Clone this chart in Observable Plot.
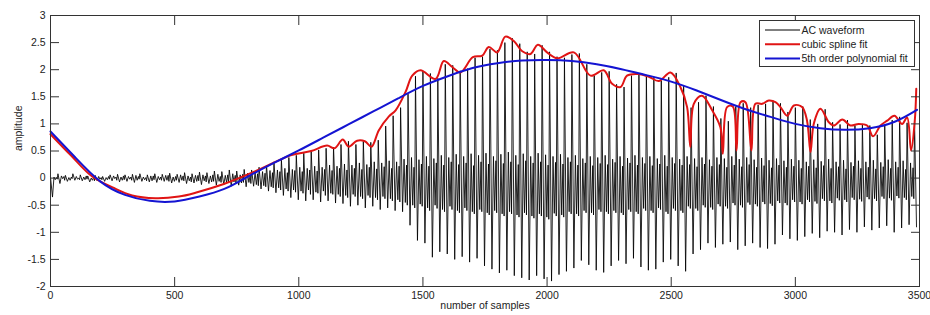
<!DOCTYPE html>
<html><head><meta charset="utf-8">
<script src="https://cdn.jsdelivr.net/npm/d3@7"></script>
<script src="https://cdn.jsdelivr.net/npm/@observablehq/plot@0.6"></script>
<style>body{margin:0;background:#fff;} #chart svg{display:block}</style>
</head><body><div id="chart"></div>
<script>
// ---- data ----
const xTicks = [0, 500, 1000, 1500, 2000, 2500, 3000, 3500];
const yTicks = [-2, -1.5, -1, -0.5, 0, 0.5, 1, 1.5, 2, 2.5, 3];
const xLabel = "number of samples";
const yLabel = "amplitude";
const legendLabels = ["AC waveform", "cubic spline fit", "5th order polynomial fit"];

// AC waveform: one cycle every 30 samples; turning points inside a cycle
const cyclePeriod = 30;
const cycleTurnOffsets = [0, 8, 14, 19, 24, 27]; // peak, trough, ripple hi, ripple lo, ripple2 hi, ripple2 lo
const acPeaks = [
  0.02, 0.08, 0.05, 0.08, 0.06, 0.04, 0.05, 0.03, 0.06, 0.07,
  0.06, 0.07, 0.08, 0.06, 0.08, 0.07, 0.09, 0.07, 0.10, 0.08,
  0.11, 0.10, 0.13, 0.12, 0.15, 0.13, 0.16, 0.15, 0.20, 0.24,
  0.30, 0.33, 0.38, 0.42, 0.46, 0.50, 0.52, 0.55, 0.57, 0.62,
  0.68, 0.62, 0.68, 0.66, 0.70, 0.96, 1.15, 1.30, 1.55, 1.88,
  1.98, 1.93, 1.84, 2.10, 2.08, 1.98, 2.02, 2.22, 2.24, 2.38,
  2.36, 2.50, 2.58, 2.48, 2.33, 2.29, 2.45, 2.33, 2.24, 2.22,
  2.28, 2.30, 2.10, 1.89, 1.95, 1.97, 1.73, 1.68, 1.89, 1.92,
  1.90, 1.86, 1.80, 1.86, 1.94, 1.70, 1.30, 1.40, 1.52, 1.32,
  1.10, 1.05, 1.32, 1.38, 1.30, 1.35, 1.37, 1.43, 1.38, 1.22,
  1.30, 1.32, 1.08, 1.00, 1.27, 1.03, 0.99, 1.07, 0.97, 1.00,
  0.97, 0.80, 0.97, 1.07, 1.13, 1.02, 1.05
];
const acTroughs = [
  -0.35, -0.10, -0.06, -0.04, -0.05, -0.07, -0.05, -0.06, -0.05, -0.07,
  -0.06, -0.08, -0.06, -0.07, -0.08, -0.06, -0.09, -0.08, -0.10, -0.09,
  -0.12, -0.10, -0.13, -0.12, -0.15, -0.13, -0.16, -0.15, -0.20, -0.24,
  -0.27, -0.32, -0.36, -0.40, -0.42, -0.40, -0.44, -0.42, -0.46, -0.47,
  -0.52, -0.50, -0.55, -0.52, -0.58, -0.55, -0.60, -0.62, -0.87, -1.15,
  -1.20, -1.46, -1.36, -1.40, -1.50, -1.45, -1.55, -1.48, -1.62, -1.68,
  -1.75, -1.70, -1.80, -1.84, -1.88, -1.80, -1.86, -1.90, -1.78, -1.72,
  -1.66, -1.52, -1.60, -1.70, -1.74, -1.62, -1.52, -1.58, -1.48, -1.64,
  -1.70, -1.68, -1.55, -1.50, -1.62, -1.72, -1.40, -1.32, -1.20, -1.28,
  -1.22, -1.18, -1.32, -1.25, -1.20, -1.28, -1.30, -1.22, -1.05, -1.12,
  -1.15, -1.08, -1.02, -1.10, -0.98, -1.00, -1.05, -0.95, -1.00, -0.90,
  -0.96, -0.92, -0.88, -1.00, -0.92, -0.86, -0.90
];
const acRippleHigh = [
  0.02, 0.04, 0.01, 0.03, 0.02, 0.00, 0.03, 0.01, 0.04, 0.02,
  0.03, 0.05, 0.02, 0.04, 0.03, 0.05, 0.02, 0.06, 0.04, 0.05,
  0.06, 0.04, 0.07, 0.05, 0.08, 0.06, 0.09, 0.10, 0.12, 0.14,
  0.15, 0.18, 0.16, 0.20, 0.18, 0.22, 0.20, 0.24, 0.22, 0.26,
  0.24, 0.28, 0.25, 0.30, 0.28, 0.32, 0.30, 0.35, 0.38, 0.34,
  0.40, 0.36, 0.42, 0.38, 0.44, 0.40, 0.45, 0.42, 0.46, 0.40,
  0.44, 0.48, 0.42, 0.45, 0.40, 0.46, 0.43, 0.40, 0.44, 0.38,
  0.42, 0.36, 0.40, 0.38, 0.42, 0.35, 0.40, 0.37, 0.42, 0.38,
  0.40, 0.36, 0.42, 0.38, 0.35, 0.40, 0.36, 0.38, 0.34, 0.38,
  0.36, 0.40, 0.35, 0.38, 0.34, 0.37, 0.33, 0.36, 0.32, 0.35,
  0.33, 0.30, 0.34, 0.31, 0.35, 0.30, 0.33, 0.29, 0.32, 0.30,
  0.33, 0.29, 0.34, 0.30, 0.32, 0.28
];
const acRippleLow = [
  -0.03, -0.01, -0.04, -0.02, -0.03, -0.04, -0.02, -0.03, -0.01, -0.04,
  -0.02, -0.04, -0.03, -0.05, -0.03, -0.04, -0.06, -0.04, -0.05, -0.06,
  -0.05, -0.07, -0.06, -0.08, -0.07, -0.09, -0.08, -0.12, -0.14, -0.16,
  -0.18, -0.20, -0.22, -0.24, -0.22, -0.26, -0.24, -0.28, -0.30, -0.32,
  -0.30, -0.34, -0.32, -0.36, -0.34, -0.38, -0.40, -0.45, -0.50, -0.48,
  -0.55, -0.50, -0.58, -0.52, -0.60, -0.55, -0.62, -0.58, -0.64, -0.60,
  -0.66, -0.62, -0.68, -0.64, -0.70, -0.66, -0.72, -0.65, -0.68, -0.62,
  -0.66, -0.60, -0.64, -0.58, -0.62, -0.60, -0.64, -0.58, -0.62, -0.56,
  -0.60, -0.55, -0.62, -0.56, -0.60, -0.52, -0.56, -0.50, -0.54, -0.48,
  -0.52, -0.46, -0.50, -0.45, -0.48, -0.44, -0.47, -0.42, -0.46, -0.40,
  -0.44, -0.40, -0.43, -0.38, -0.42, -0.37, -0.40, -0.36, -0.39, -0.35,
  -0.38, -0.34, -0.37, -0.33, -0.36, -0.34
];
const acRipple2High = [
  0.01, 0.03, 0.02, 0.00, 0.04, 0.02, 0.01, 0.03, 0.02, 0.04,
  0.02, 0.03, 0.01, 0.04, 0.02, 0.05, 0.03, 0.04, 0.02, 0.05,
  0.04, 0.06, 0.03, 0.06, 0.05, 0.07, 0.05, 0.08, 0.09, 0.10,
  0.12, 0.10, 0.14, 0.12, 0.15, 0.13, 0.16, 0.14, 0.18, 0.15,
  0.18, 0.16, 0.20, 0.17, 0.21, 0.18, 0.22, 0.24, 0.20, 0.26,
  0.22, 0.28, 0.24, 0.30, 0.25, 0.28, 0.23, 0.30, 0.26, 0.32,
  0.27, 0.30, 0.25, 0.32, 0.28, 0.30, 0.24, 0.29, 0.26, 0.30,
  0.24, 0.28, 0.23, 0.27, 0.25, 0.29, 0.22, 0.28, 0.24, 0.27,
  0.23, 0.26, 0.22, 0.27, 0.24, 0.25, 0.21, 0.26, 0.22, 0.25,
  0.20, 0.24, 0.21, 0.25, 0.20, 0.23, 0.19, 0.24, 0.20, 0.22,
  0.18, 0.22, 0.19, 0.23, 0.18, 0.21, 0.17, 0.22, 0.18, 0.20,
  0.17, 0.21, 0.18, 0.20, 0.16, 0.19
];
const acRipple2Low = [
  -0.02, -0.04, -0.01, -0.03, -0.02, -0.05, -0.03, -0.02, -0.04, -0.03,
  -0.04, -0.02, -0.05, -0.03, -0.04, -0.06, -0.04, -0.05, -0.07, -0.05,
  -0.07, -0.06, -0.08, -0.07, -0.09, -0.08, -0.10, -0.14, -0.16, -0.18,
  -0.22, -0.24, -0.26, -0.28, -0.30, -0.28, -0.32, -0.30, -0.34, -0.36,
  -0.34, -0.38, -0.36, -0.40, -0.38, -0.42, -0.44, -0.50, -0.55, -0.52,
  -0.60, -0.56, -0.62, -0.58, -0.64, -0.60, -0.66, -0.62, -0.68, -0.64,
  -0.70, -0.66, -0.72, -0.68, -0.74, -0.70, -0.76, -0.70, -0.72, -0.66,
  -0.70, -0.64, -0.68, -0.62, -0.66, -0.64, -0.68, -0.62, -0.66, -0.60,
  -0.64, -0.58, -0.66, -0.60, -0.64, -0.56, -0.60, -0.54, -0.58, -0.52,
  -0.56, -0.50, -0.54, -0.49, -0.52, -0.48, -0.51, -0.46, -0.50, -0.44,
  -0.48, -0.44, -0.47, -0.42, -0.46, -0.41, -0.44, -0.40, -0.43, -0.39,
  -0.42, -0.38, -0.41, -0.37, -0.40, -0.38
];

// cubic spline fit (knots)
const splineSamples = [0, 80, 168, 250, 329, 423, 517, 584, 698, 832,
  967, 1050, 1114, 1144, 1177, 1201, 1235, 1266, 1293, 1322,
  1363, 1390, 1430, 1457, 1490, 1551, 1584, 1618, 1651, 1701,
  1739, 1765, 1799, 1832, 1866, 1900, 1933, 1963, 2000, 2041,
  2108, 2175, 2228, 2262, 2296, 2322, 2369, 2410, 2450, 2497,
  2537, 2564, 2577, 2591, 2624, 2665, 2698, 2708, 2725, 2748,
  2763, 2779, 2799, 2823, 2839, 2866, 2893, 2920, 2940, 2967,
  2994, 3027, 3047, 3061, 3074, 3101, 3135, 3155, 3189, 3222,
  3255, 3289, 3313, 3343, 3370, 3399, 3430, 3450, 3466, 3481, 3487];
const splineValues = [0.81, 0.43, 0.03, -0.17, -0.32, -0.37, -0.34, -0.27, -0.11, 0.14,
  0.42, 0.50, 0.60, 0.55, 0.71, 0.58, 0.69, 0.68, 0.58, 0.88,
  1.14, 1.25, 1.59, 1.89, 1.99, 1.83, 2.16, 2.05, 1.95, 2.23,
  2.26, 2.42, 2.32, 2.61, 2.53, 2.34, 2.29, 2.46, 2.32, 2.21,
  2.32, 1.89, 1.99, 1.74, 1.68, 1.89, 1.92, 1.87, 1.79, 1.95,
  1.68, 1.31, 0.57, 1.37, 1.52, 1.25, 0.94, 0.45, 1.31, 1.32,
  0.51, 1.40, 1.40, 0.51, 1.37, 1.37, 1.43, 1.40, 1.31, 1.15,
  1.34, 1.31, 1.06, 0.48, 1.00, 1.28, 1.03, 0.97, 1.08, 0.97,
  1.00, 0.97, 0.77, 0.97, 1.06, 1.15, 1.00, 1.12, 0.51, 1.06, 1.65];

// 5th order polynomial fit
const polySamples = [0, 100, 200, 300, 400, 500, 600, 700, 800, 900,
  1000, 1100, 1200, 1300, 1400, 1500, 1600, 1700, 1800, 1900,
  2000, 2100, 2200, 2300, 2400, 2500, 2600, 2700, 2800, 2900,
  3000, 3100, 3200, 3300, 3400, 3490];
const polyValues = [0.86, 0.38, -0.06, -0.31, -0.42, -0.43, -0.34, -0.20, 0.04, 0.28,
  0.51, 0.75, 0.99, 1.23, 1.47, 1.70, 1.88, 2.03, 2.12, 2.17,
  2.18, 2.16, 2.10, 2.01, 1.90, 1.78, 1.62, 1.44, 1.27, 1.13,
  1.00, 0.92, 0.89, 0.92, 1.04, 1.26];

// ---- build tables ----
const acLists = [acPeaks, acTroughs, acRippleHigh, acRippleLow, acRipple2High, acRipple2Low];
const ac = [];
for (let i = 0; i < acPeaks.length; i++) {
  acLists.forEach((list, k) => {
    if (i < list.length) ac.push({s: i * cyclePeriod + cycleTurnOffsets[k], v: list[i]});
  });
}
const spline = splineSamples.map((s, i) => ({s, v: splineValues[i]}));
const poly = polySamples.map((s, i) => ({s, v: polyValues[i]}));

const colAC = "#000000", colSpline = "#e01414", colPoly = "#1414d2";
const font = "'Liberation Sans', Arial, Helvetica, sans-serif";
const fmt = d => String(d);
const tickLen = 9;   // MATLAB-style inward ticks
const axisColor = "#333";

const chart = Plot.plot({
  width: 930, height: 315,
  marginLeft: 50, marginRight: 11, marginTop: 15, marginBottom: 29,
  style: {fontFamily: font, fontSize: "10.5px", color: "#222", background: "#fff", overflow: "visible"},
  x: {domain: [0, 3500]},
  y: {domain: [-2, 3]},
  marks: [
    Plot.line(ac, {x: "s", y: "v", stroke: colAC, strokeWidth: 0.85}),
    Plot.line(spline, {x: "s", y: "v", stroke: colSpline, strokeWidth: 2, curve: "catmull-rom"}),
    Plot.line(poly, {x: "s", y: "v", stroke: colPoly, strokeWidth: 2, curve: "natural"}),
    Plot.frame({stroke: axisColor, strokeWidth: 1}),
    // tick labels
    Plot.axisX(xTicks, {anchor: "bottom", tickSize: 0, tickPadding: 5.5, tickFormat: fmt, label: null}),
    Plot.axisY(yTicks, {anchor: "left", tickSize: 0, tickPadding: 5, tickFormat: fmt, label: null}),
    // inward tick marks on all four sides
    Plot.axisX(xTicks, {anchor: "bottom", tickSize: tickLen, dy: -tickLen, tickFormat: () => "", label: null, stroke: axisColor}),
    Plot.axisX(xTicks, {anchor: "top", tickSize: tickLen, dy: tickLen, tickFormat: () => "", label: null, stroke: axisColor}),
    Plot.axisY(yTicks, {anchor: "left", tickSize: tickLen, dx: tickLen, tickFormat: () => "", label: null, stroke: axisColor}),
    Plot.axisY(yTicks, {anchor: "right", tickSize: tickLen, dx: -tickLen, tickFormat: () => "", label: null, stroke: axisColor}),
    Plot.text([yLabel], {text: d => d, frameAnchor: "left", dx: -32, rotate: -90, fill: "#222"}),
    Plot.text([xLabel], {text: d => d, frameAnchor: "bottom", dy: 22, fill: "#222"})
  ]
});
document.getElementById("chart").appendChild(chart);

// legend (inside the axes, top-right, MATLAB style)
const svg = d3.select(chart);
const lg = svg.append("g").attr("font-family", font).attr("font-size", "10.5px").attr("text-anchor", "start");
lg.append("rect").attr("x", 759.5).attr("y", 20.5).attr("width", 155).attr("height", 46)
  .attr("fill", "#fff").attr("stroke", axisColor).attr("stroke-width", 1);
const legendColors = [colAC, colSpline, colPoly];
const legendWidths = [1, 2, 2];
legendLabels.forEach((label, k) => {
  const y = 30 + k * 14.2;
  lg.append("line").attr("x1", 765).attr("x2", 800).attr("y1", y).attr("y2", y)
    .attr("stroke", legendColors[k]).attr("stroke-width", legendWidths[k]);
  lg.append("text").attr("x", 801.5).attr("y", y).attr("dy", "0.35em").attr("text-anchor", "start")
    .attr("fill", "#222").text(label);
});
</script></body></html>
